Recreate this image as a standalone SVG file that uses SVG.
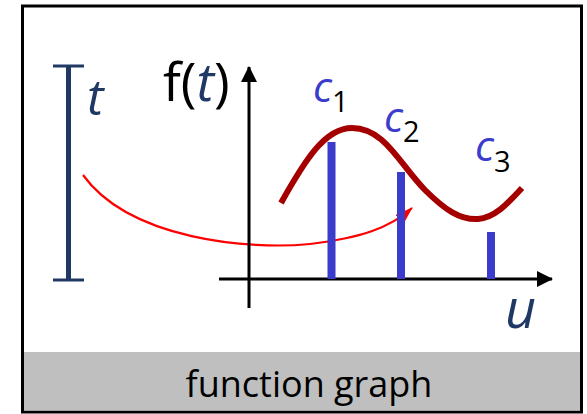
<svg xmlns="http://www.w3.org/2000/svg" width="587" height="414" viewBox="0 0 587 414">
<defs>
<style>
.lbl{font-family:"Open Sans","Liberation Sans",sans-serif;}
.it{font-style:italic;}
.navy{fill:#1f3864;}
.blue{fill:#3b3bcc;}
.bar{fill:#3b3bcc;}
</style>
<marker id="ah" viewBox="0 0 16 16" refX="15" refY="8" markerWidth="16" markerHeight="16" markerUnits="userSpaceOnUse" orient="auto">
<path d="M0,0 L16,8 L0,16 Z" fill="#000"/>
</marker>
<marker id="rah" viewBox="0 0 18 12" refX="17" refY="6" markerWidth="18" markerHeight="12" markerUnits="userSpaceOnUse" orient="auto">
<path d="M0,0 L18,6 L0,12 Z" fill="#ff0000"/>
</marker>
</defs>
<rect x="0" y="0" width="587" height="414" fill="#fff"/>
<g id="frame">
<rect x="22.5" y="6" width="559" height="406" fill="#fff" stroke="#000" stroke-width="3"/>
<rect x="24" y="352" width="556" height="58.5" fill="#bfbfbf"/>
<text class="lbl" x="309" y="397" font-size="36" text-anchor="middle" fill="#000">function graph</text>
</g>
<g id="t-range">
<line x1="68.5" y1="66" x2="68.5" y2="280" stroke="#1f3864" stroke-width="5"/>
<line x1="53" y1="66" x2="84" y2="66" stroke="#1f3864" stroke-width="3"/>
<line x1="53" y1="280" x2="84" y2="280" stroke="#1f3864" stroke-width="3"/>
<text class="lbl it navy" x="87" y="115" font-size="50">t</text>
</g>
<g id="connectors">
<path d="M83,175 C130,240 250,250 310,244 C360,238 390,228 412,208" fill="none" stroke="#ff0000" stroke-width="2.2" marker-end="url(#rah)"/>
</g>
<g id="axes">
<line x1="249" y1="308" x2="249" y2="67" stroke="#000" stroke-width="3" marker-end="url(#ah)"/>
<line x1="219" y1="279" x2="552" y2="279" stroke="#000" stroke-width="3" marker-end="url(#ah)"/>
<text class="lbl" x="163" y="101" font-size="53" fill="#000">f(<tspan class="it navy">t</tspan>)</text>
<text class="lbl it navy" x="505" y="328" font-size="54">u</text>
</g>
<g id="bars">
<rect class="bar" x="327.5" y="142" width="8" height="137"/>
<rect class="bar" x="397" y="172" width="8" height="107"/>
<rect class="bar" x="487" y="232" width="8" height="47"/>
</g>
<g id="curve">
<path d="M281,203 C305,160 325,128 352,128 C385,128 400,165 425,190 C445,210 460,220 478,219 C495,218 508,203 522,188" fill="none" stroke="#a50000" stroke-width="6"/>
</g>
<g id="labels">
<text class="lbl" x="313" y="102" font-size="42"><tspan class="it blue">c</tspan><tspan font-size="29" dy="10" fill="#000">1</tspan></text>
<text class="lbl" x="384" y="132" font-size="42"><tspan class="it blue">c</tspan><tspan font-size="29" dy="10" fill="#000">2</tspan></text>
<text class="lbl" x="475" y="161" font-size="42"><tspan class="it blue">c</tspan><tspan font-size="29" dy="11" fill="#000">3</tspan></text>
</g>
</svg>
